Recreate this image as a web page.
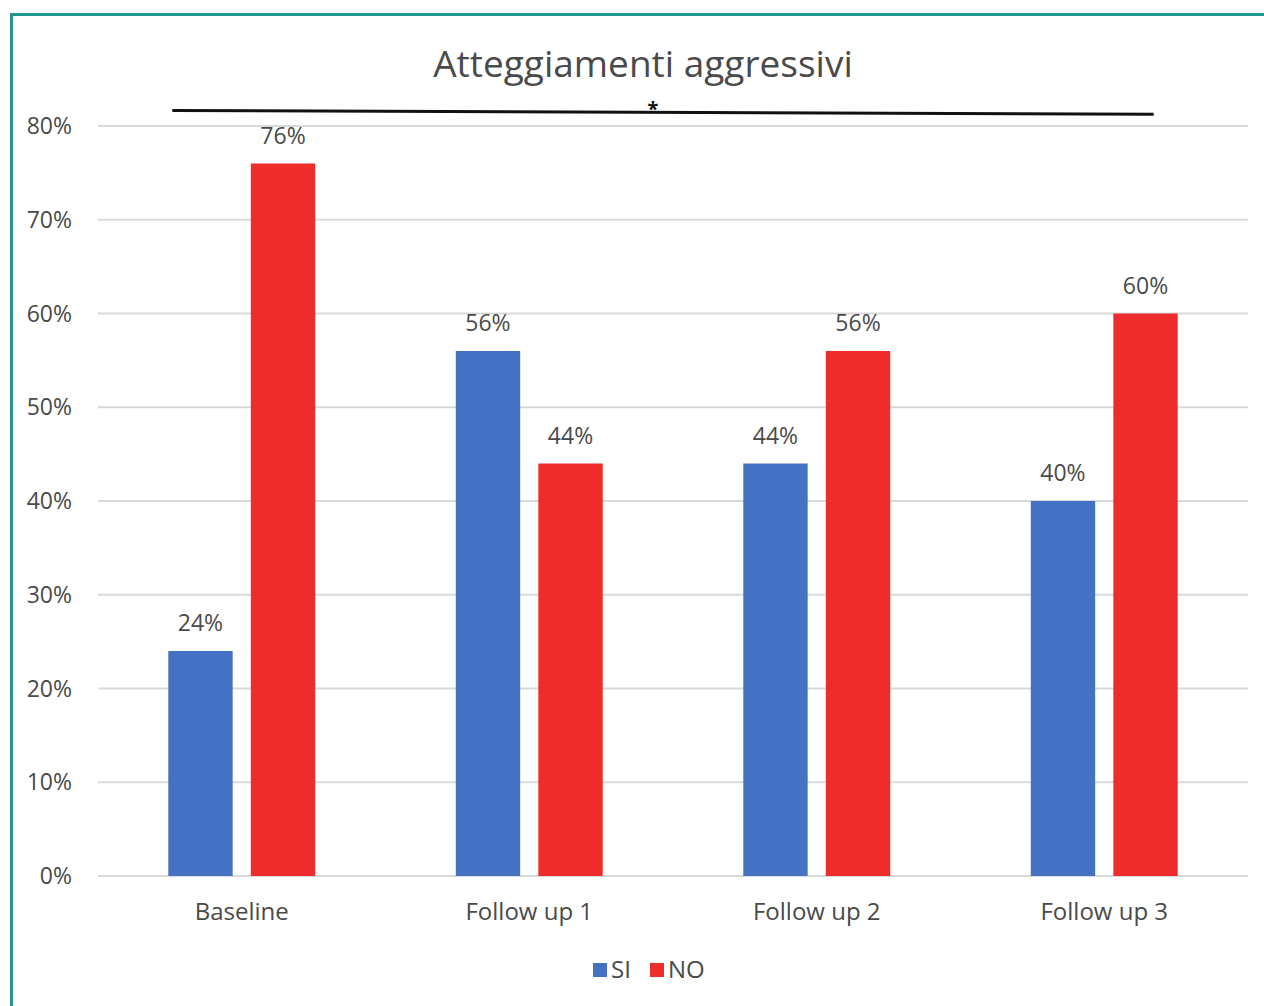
<!DOCTYPE html>
<html>
<head>
<meta charset="utf-8">
<script src="https://cdn.jsdelivr.net/npm/d3@7"></script>
<style>
  body { margin: 0; background: #fff; }
  text { font-family: 'Open Sans', sans-serif; fill: #4a4a4a; }
</style>
</head>
<body>
<div id="chart"></div>
<script>
var categories = ['Baseline', 'Follow up 1', 'Follow up 2', 'Follow up 3'];
var seriesNames = ['SI', 'NO'];
var siValues = [0.24, 0.56, 0.44, 0.40];
var noValues = [0.76, 0.44, 0.56, 0.60];
var yTicks = [0, 0.1, 0.2, 0.3, 0.4, 0.5, 0.6, 0.7, 0.8];
var colors = ['#4472c4', '#ee2c2c'];

var w = 1264,
h = 1006;

var svg = d3.
select('#chart').
append('svg').
attr('width', w).
attr('height', h);

// frame
svg.append('path').
attr('d', 'M11.5,1006 L11.5,14.5 L1264,14.5').
attr('fill', 'none').
attr('stroke', '#1f9690').
attr('stroke-width', 3);

var x = d3.
scaleBand().
domain(categories).
range([98, 1248]).
paddingInner(0.489).
paddingOuter(0.2445);

var xs = d3.
scaleBand().
domain(seriesNames).
range([0, x.bandwidth()]).
paddingInner(0.22);

var y = d3.
scaleLinear().
domain([0, 0.8]).
range([876, 126]);

var fmt = d3.format('.0%');

// gridlines
svg.append('g').
selectAll('line').
data(yTicks).
enter().
append('line').
attr('x1', 98).
attr('x2', 1248).
attr('y1', d => y(d)).
attr('y2', d => y(d)).
attr('stroke', '#d9d9d9').
attr('stroke-width', 2);

// y axis labels
svg.append('g').
selectAll('text').
data(yTicks).
enter().
append('text').
attr('x', 72).
attr('y', d => y(d)).
attr('dy', '0.35em').
attr('text-anchor', 'end').
style('font-size', '23px').
text(fmt);

var rows = categories.map((c, i) => ({ cat: c, vals: [siValues[i], noValues[i]] }));

var groups = svg.
selectAll('g.grp').
data(rows).
enter().
append('g').
attr('class', 'grp').
attr('transform', d => 'translate(' + x(d.cat) + ',0)');

groups.selectAll('rect').
data(d => d.vals.map((v, j) => ({ name: seriesNames[j], v: v, j: j }))).
enter().
append('rect').
attr('x', d => xs(d.name)).
attr('y', d => y(d.v)).
attr('width', xs.bandwidth()).
attr('height', d => y(0) - y(d.v)).
attr('fill', d => colors[d.j]);

groups.selectAll('text.lbl').
data(d => d.vals.map((v, j) => ({ name: seriesNames[j], v: v }))).
enter().
append('text').
attr('class', 'lbl').
attr('x', d => xs(d.name) + xs.bandwidth() / 2).
attr('y', d => y(d.v) - 20).
attr('text-anchor', 'middle').
style('font-size', '23px').
text(d => fmt(d.v));

// category labels
svg.append('g').
selectAll('text').
data(categories).
enter().
append('text').
attr('x', d => x(d) + x.bandwidth() / 2).
attr('y', 920).
attr('text-anchor', 'middle').
style('font-size', '24px').
text(d => d);

// title
svg.append('text').
attr('x', 643).
attr('y', 77).
attr('text-anchor', 'middle').
style('font-size', '37px').
text('Atteggiamenti aggressivi');

// significance bar
var sigX1 = x(categories[0]) + 4,
sigX2 = x(categories[3]) + x.bandwidth() - 24;
svg.append('line').
attr('x1', sigX1).
attr('x2', sigX2).
attr('y1', y(0.8165)).
attr('y2', y(0.8125)).
attr('stroke', '#111').
attr('stroke-width', 3);

svg.append('text').
attr('x', (sigX1 + sigX2) / 2 - 10).
attr('y', y(0.8145) + 4).
attr('text-anchor', 'middle').
style('font-size', '20px').
style('font-weight', 'bold').
style('fill', '#111').
text('*');

// legend
var legend = svg.append('g').attr('transform', 'translate(593,963)');
var legItems = legend.
selectAll('g').
data(seriesNames).
enter().
append('g').
attr('transform', (d, i) => 'translate(' + i * 57 + ',0)');

legItems.append('rect').
attr('width', 14).
attr('height', 14).
attr('fill', (d, i) => colors[i]);

legItems.append('text').
attr('x', 18).
attr('y', 7).
attr('dy', '0.35em').
style('font-size', '24px').
text(d => d);
</script>
</body>
</html>
